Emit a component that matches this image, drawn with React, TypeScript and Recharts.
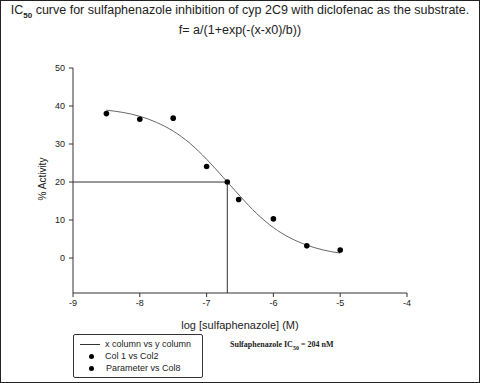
import { ComposedChart, Line, Scatter, XAxis, YAxis, ReferenceLine } from "recharts";

// measured points (Col 1 vs Col2)
const logConc = [-8.5, -8.0, -7.5, -7.0, -6.52, -6.0, -5.5, -5.0];
const activity = [38.0, 36.5, 36.8, 24.1, 15.4, 10.3, 3.2, 2.1];

// fitted curve (x column vs y column)
const curveX = [-8.5, -8.25, -8.0, -7.75, -7.5, -7.25, -7.0, -6.75, -6.5, -6.25, -6.0, -5.75, -5.5, -5.25, -5.0];
const curveY = [38.9, 38.3, 37.3, 35.7, 33.4, 30.2, 26.0, 21.2, 16.3, 11.7, 8.0, 5.3, 3.4, 2.1, 1.3];

// IC50 point (Parameter vs Col8)
const ic50X = [-6.69];
const ic50Y = [20];

const xTicks = [-9, -8, -7, -6, -5, -4];
const yTicks = [0, 10, 20, 30, 40, 50];
const Y_MIN = -9.2;

const points = logConc.map((x, i) => ({ x, y: activity[i] }));
const curve = curveX.map((x, i) => ({ x, y: curveY[i] }));
const ic50 = ic50X.map((x, i) => ({ x, y: ic50Y[i] }));

const font = "'Liberation Sans', Arial, sans-serif";
const tick = { fill: "#222", fontSize: 9, fontFamily: font };

const Dot = (props: any) => <circle cx={props.cx} cy={props.cy} r={2.8} fill="#000" />;

export default function App() {
  return (
    <div
      style={{
        position: "absolute",
        left: 0,
        top: 0,
        width: 480,
        height: 383,
        boxSizing: "border-box",
        border: "1px solid #222",
        background: "#fff",
        fontFamily: font,
        color: "#222",
      }}
    >
      <div style={{ position: "absolute", left: -1, top: 2, width: 480, textAlign: "center", fontSize: 12.5, whiteSpace: "nowrap" }}>
        IC<sub style={{ fontSize: 8, fontWeight: "bold" }}>50</sub> curve for sulfaphenazole inhibition of cyp 2C9 with diclofenac as the substrate.
      </div>
      <div style={{ position: "absolute", left: -1, top: 22, width: 480, textAlign: "center", fontSize: 12.5 }}>
        f= a/(1+exp(-(x-x0)/b))
      </div>
      <div style={{ position: "absolute", left: 0, top: 0 }}>
        <ComposedChart width={478} height={381} margin={{ top: 67, right: 72, left: 0, bottom: 59 }}>
          <XAxis
            dataKey="x"
            type="number"
            domain={[-9, -4]}
            ticks={xTicks}
            tick={tick}
            tickSize={4}
            tickMargin={3}
            stroke="#333"
            height={30}
            allowDataOverflow
          />
          <YAxis
            dataKey="y"
            type="number"
            domain={[Y_MIN, 50]}
            ticks={yTicks}
            tick={tick}
            tickSize={4}
            tickMargin={4}
            stroke="#333"
            width={72}
            allowDataOverflow
          />
          <ReferenceLine
            segment={[{ x: -9, y: ic50Y[0] }, { x: ic50X[0], y: ic50Y[0] }]}
            stroke="#333"
            strokeWidth={1}
          />
          <ReferenceLine
            segment={[{ x: ic50X[0], y: ic50Y[0] }, { x: ic50X[0], y: Y_MIN }]}
            stroke="#333"
            strokeWidth={1}
          />
          <Line
            data={curve}
            dataKey="y"
            type="monotone"
            stroke="#666"
            strokeWidth={1}
            dot={false}
            isAnimationActive={false}
          />
          <Scatter data={points} fill="#000" shape={Dot} isAnimationActive={false} />
          <Scatter data={ic50} fill="#000" shape={Dot} isAnimationActive={false} />
        </ComposedChart>
      </div>
      <div
        style={{
          position: "absolute",
          left: 41,
          top: 178,
          transform: "translate(-50%, -50%) rotate(-90deg)",
          fontSize: 10,
          whiteSpace: "nowrap",
        }}
      >
        % Activity
      </div>
      <div style={{ position: "absolute", left: -1, top: 318, width: 480, textAlign: "center", fontSize: 11 }}>
        log [sulfaphenazole] (M)
      </div>
      <div
        style={{
          position: "absolute",
          left: 72,
          top: 333,
          width: 130,
          height: 44,
          boxSizing: "border-box",
          border: "1px solid #333",
          borderRadius: 2,
          fontSize: 9,
        }}
      >
        <div style={{ position: "absolute", left: 6, top: 4, display: "flex", alignItems: "center" }}>
          <span style={{ display: "inline-block", width: 20, borderTop: "1px solid #333", marginRight: 5 }} />
          x column vs y column
        </div>
        <div style={{ position: "absolute", left: 15, top: 16, display: "flex", alignItems: "center" }}>
          <span style={{ display: "inline-block", width: 5, height: 5, borderRadius: 3, background: "#000", marginRight: 11 }} />
          Col 1 vs Col2
        </div>
        <div style={{ position: "absolute", left: 15, top: 28, display: "flex", alignItems: "center" }}>
          <span style={{ display: "inline-block", width: 5, height: 5, borderRadius: 3, background: "#000", marginRight: 12 }} />
          Parameter vs Col8
        </div>
      </div>
      <div
        style={{
          position: "absolute",
          left: 229,
          top: 339,
          fontSize: 8,
          fontWeight: "bold",
          fontFamily: "'Liberation Serif', 'Times New Roman', serif",
          whiteSpace: "nowrap",
        }}
      >
        Sulfaphenazole IC<sub style={{ fontSize: 6 }}>50</sub> = 204 nM
      </div>
    </div>
  );
}
